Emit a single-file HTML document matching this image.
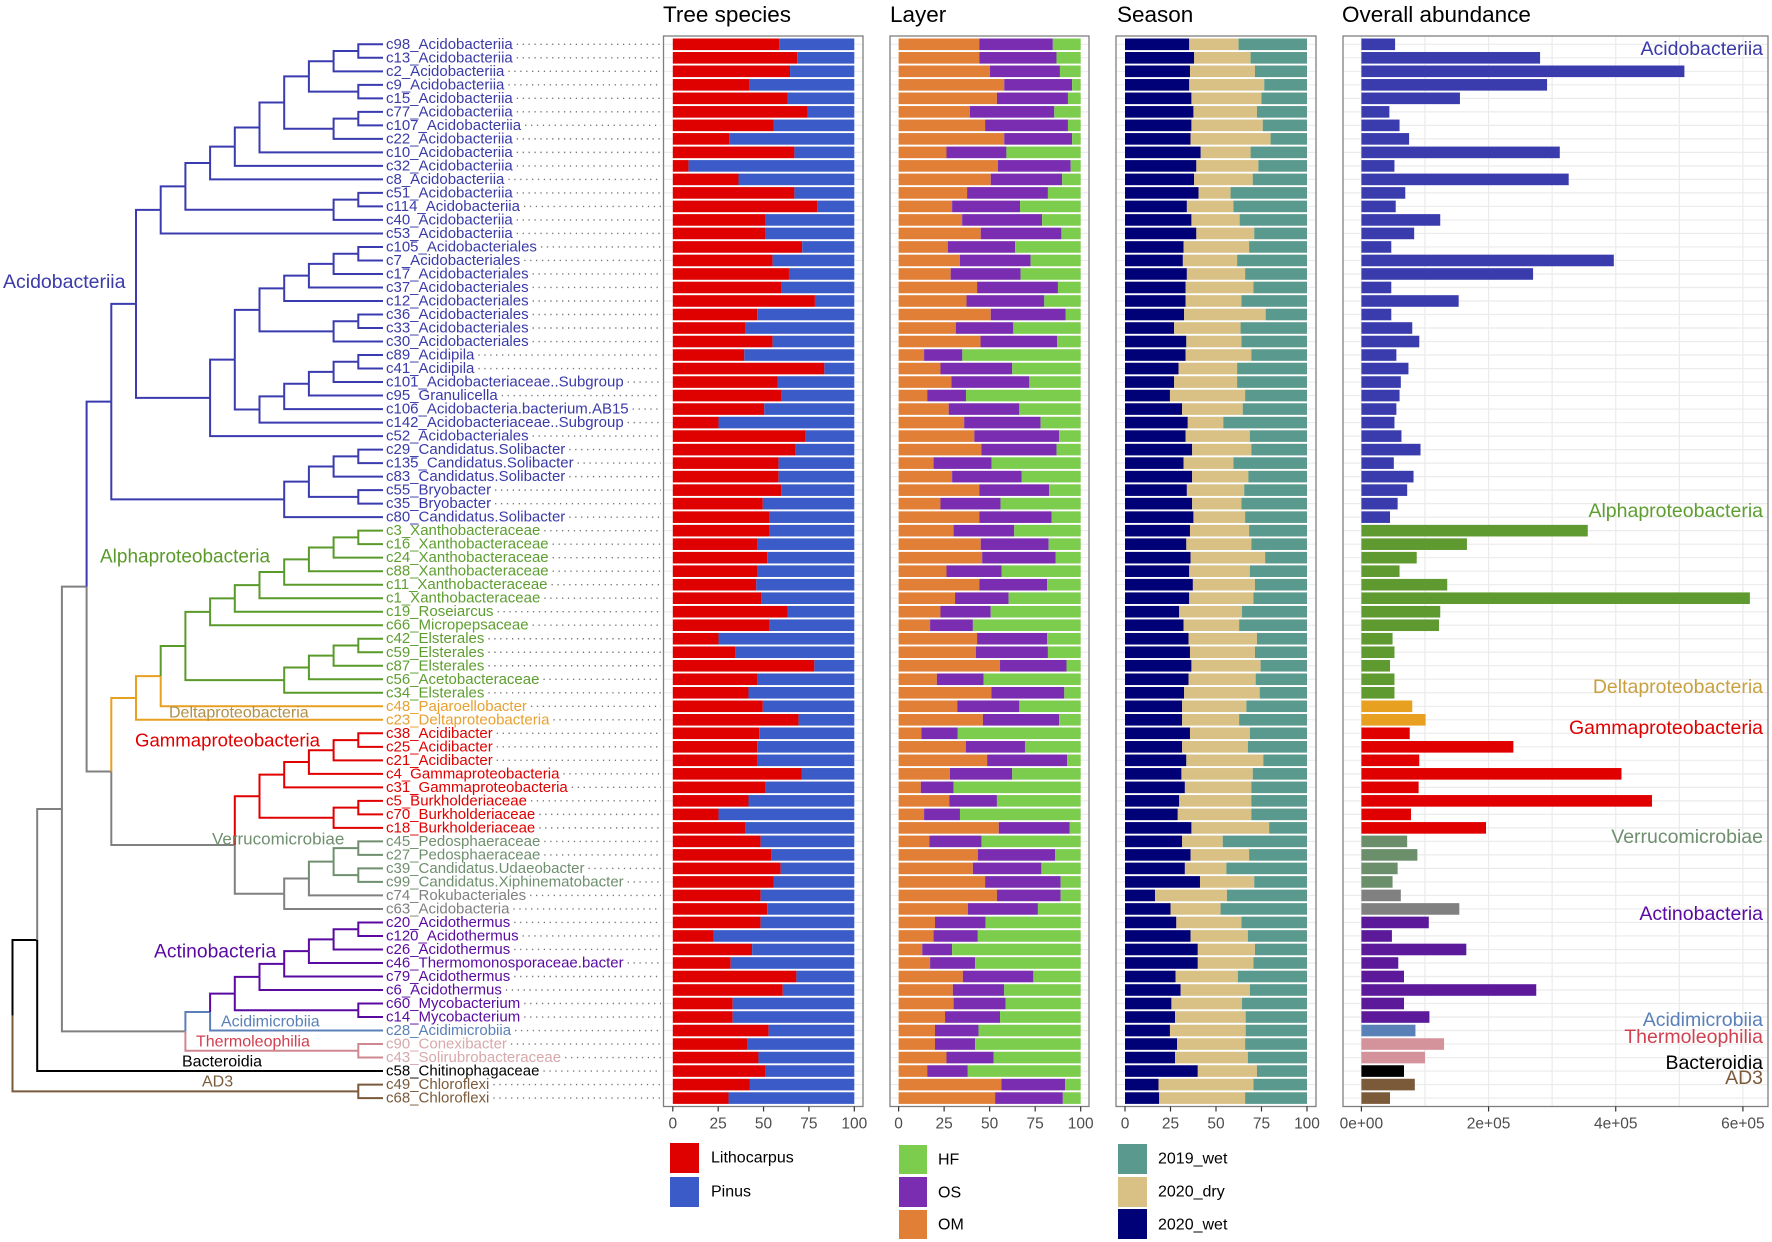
<!DOCTYPE html>
<html><head><meta charset="utf-8">
<style>
html,body{margin:0;padding:0;background:#fff;}
svg{display:block;font-family:"Liberation Sans",Arial,sans-serif;}
</style></head>
<body>
<svg id="chart" width="1772" height="1242" viewBox="0 0 1772 1242" xmlns="http://www.w3.org/2000/svg">
<rect x="0" y="0" width="1772" height="1242" fill="#fff"/>
<g id="tree"></g>
<g id="leaflabels"></g>
<g id="panels"></g>
<g id="titles">
<text x="663" y="22" font-size="22.5">Tree species</text>
<text x="890" y="22" font-size="22.5">Layer</text>
<text x="1117" y="22" font-size="22.5">Season</text>
<text x="1342" y="22" font-size="22.5">Overall abundance</text>
</g>
<g id="grouplabels" dominant-baseline="central">
<text x="3" y="282" font-size="19.5" fill="#3a3aa8">Acidobacteriia</text>
<text x="100" y="557" font-size="19" fill="#5a9a2a">Alphaproteobacteria</text>
<text x="169" y="713" font-size="16" fill="#b09048">Deltaproteobacteria</text>
<text x="135" y="740" font-size="18.6" fill="#e00000">Gammaproteobacteria</text>
<text x="212" y="839" font-size="17" fill="#6f8f6f">Verrucomicrobiae</text>
<text x="154" y="952" font-size="19.3" fill="#5a0aa0">Actinobacteria</text>
<text x="221" y="1022" font-size="16" fill="#5b80b8">Acidimicrobiia</text>
<text x="196" y="1042" font-size="16" fill="#d04050">Thermoleophilia</text>
<text x="182" y="1062" font-size="16" fill="#000">Bacteroidia</text>
<text x="202" y="1082" font-size="16" fill="#7a5a3a">AD3</text>
</g>
<g id="legends" font-size="16" fill="#000">
<rect x="670" y="1143" width="29" height="30" fill="#df0000"/>
<text x="711" y="1158" dominant-baseline="central">Lithocarpus</text>
<rect x="670" y="1177" width="29" height="30" fill="#3a5bc8"/>
<text x="711" y="1192" dominant-baseline="central">Pinus</text>
<rect x="899" y="1145" width="28" height="29" fill="#7ccd4e"/>
<text x="938" y="1160" dominant-baseline="central">HF</text>
<rect x="899" y="1177" width="28" height="30" fill="#7a2db0"/>
<text x="938" y="1193" dominant-baseline="central">OS</text>
<rect x="899" y="1210" width="28" height="29" fill="#e07f35"/>
<text x="938" y="1225" dominant-baseline="central">OM</text>
<rect x="1118" y="1144" width="29" height="30" fill="#5a9a8e"/>
<text x="1158" y="1159" dominant-baseline="central">2019_wet</text>
<rect x="1118" y="1177" width="29" height="30" fill="#d9c084"/>
<text x="1158" y="1192" dominant-baseline="central">2020_dry</text>
<rect x="1118" y="1209" width="29" height="30" fill="#000077"/>
<text x="1158" y="1225" dominant-baseline="central">2020_wet</text>
</g>
</svg>
<script>
const leafNames = ["c98_Acidobacteriia","c13_Acidobacteriia","c2_Acidobacteriia","c9_Acidobacteriia","c15_Acidobacteriia","c77_Acidobacteriia","c107_Acidobacteriia","c22_Acidobacteriia","c10_Acidobacteriia","c32_Acidobacteriia","c8_Acidobacteriia","c51_Acidobacteriia","c114_Acidobacteriia","c40_Acidobacteriia","c53_Acidobacteriia","c105_Acidobacteriales","c7_Acidobacteriales","c17_Acidobacteriales","c37_Acidobacteriales","c12_Acidobacteriales","c36_Acidobacteriales","c33_Acidobacteriales","c30_Acidobacteriales","c89_Acidipila","c41_Acidipila","c101_Acidobacteriaceae..Subgroup","c95_Granulicella","c106_Acidobacteria.bacterium.AB15","c142_Acidobacteriaceae..Subgroup","c52_Acidobacteriales","c29_Candidatus.Solibacter","c135_Candidatus.Solibacter","c83_Candidatus.Solibacter","c55_Bryobacter","c35_Bryobacter","c80_Candidatus.Solibacter","c3_Xanthobacteraceae","c16_Xanthobacteraceae","c24_Xanthobacteraceae","c88_Xanthobacteraceae","c11_Xanthobacteraceae","c1_Xanthobacteraceae","c19_Roseiarcus","c66_Micropepsaceae","c42_Elsterales","c59_Elsterales","c87_Elsterales","c56_Acetobacteraceae","c34_Elsterales","c48_Pajaroellobacter","c23_Deltaproteobacteria","c38_Acidibacter","c25_Acidibacter","c21_Acidibacter","c4_Gammaproteobacteria","c31_Gammaproteobacteria","c5_Burkholderiaceae","c70_Burkholderiaceae","c18_Burkholderiaceae","c45_Pedosphaeraceae","c27_Pedosphaeraceae","c39_Candidatus.Udaeobacter","c99_Candidatus.Xiphinematobacter","c74_Rokubacteriales","c63_Acidobacteria","c20_Acidothermus","c120_Acidothermus","c26_Acidothermus","c46_Thermomonosporaceae.bacter","c79_Acidothermus","c6_Acidothermus","c60_Mycobacterium","c14_Mycobacterium","c28_Acidimicrobiia","c90_Conexibacter","c43_Solirubrobacteraceae","c58_Chitinophagaceae","c49_Chloroflexi","c68_Chloroflexi"];
const groupRuns = [["A",36],["P",13],["D",2],["G",8],["V",4],["O",2],["X",8],["M",1],["T",2],["B",1],["Z",2]];
const lithocarpusPct = [58.7,68.5,64.6,42,63.4,74.4,55.5,31,67,8.7,36.2,67,79.5,50.8,51.2,71.3,55,64,60,78.3,46.5,39.8,55,39.4,83.5,57.9,60,50.4,25.2,73.2,67.7,58.3,58.3,59.8,49.6,53,53,46.8,52,46.8,46,48.8,63.4,53,25.2,34.3,78,46.8,41.7,49.6,69.3,47.6,46.5,46.8,70.9,51.2,41.7,25.2,39.8,48.4,54.3,59.4,55.5,48.4,52,48.4,22.4,43.7,31.9,68.1,60.6,33,33,52.8,41.3,47.2,51.2,42.5,30.7];
const layerOMPct = [44.3,44.3,50.2,58,54,39.2,47.5,58,26.3,54.5,50.6,37.6,29.4,34.9,45.1,27,33.7,28.6,43.1,37.3,50.6,31.4,45,14,23,29,15.7,27.5,36,41.6,45.5,19.2,29.4,44.3,23,44.3,30.2,45.1,45.9,26.3,44.3,31,23,17.3,43.1,42.4,55.7,21,51,32.2,46.3,12.5,36.9,48.6,28.2,12.2,27.8,14,55,16.9,43.5,40.8,47.5,54,38,20,19.2,13,17.3,35.3,29.8,30.2,25.5,20,20,26.3,15.7,56.5,53];
const layerOMplusOSPct = [84.7,86.7,88.6,95.3,93,85.5,93,95.3,59.2,94.5,89.8,82,66.7,78.8,89.4,64,72.5,67,87.5,80,91.8,63,87,35,62.4,71.8,37,66.3,78,88.2,86.7,51,67.5,82.7,56,84,63.5,82.4,86.3,56.5,81.6,60.4,50.6,40.8,81.6,82,92.2,46.7,91,66.3,88.2,32.5,69.4,92.5,62.4,30.2,54,33.7,94,45.5,85.9,78.4,89,89,76.5,47.8,43.5,29.4,42,74,58,58.8,55.7,43.9,42,52.2,38,91.4,90.2];
const season2020WetPct = [35.3,38,35.7,35.3,36.5,37.6,36.5,36,41.6,39.2,38,40.4,34,36.5,39.2,32.2,31.8,34,33.3,33.3,32.5,27,33.7,33.3,29.4,27,24.7,31.4,34.5,33.3,36.9,32.2,36.9,34,36.9,37.6,35.7,33.7,36,35.3,37.3,35.3,29.8,32.2,34.9,35.7,36.5,34.9,32.5,31.4,31.4,35.7,31.4,33.7,31,32.9,29.8,29,36.5,31.4,36,32.9,41.2,16.5,25,28.2,36,40,40,27.8,30.6,25.5,27.5,24.7,28.6,27.5,40,18.4,18.8];
const season2020WetPlusDryPct = [62.4,69,71.4,76.5,75,72.5,75.7,80,69,73.3,70.2,58,59.6,63,71,68.2,61.6,66,70.6,64,77.3,63.5,64,69.4,61.6,61.6,66,64.7,54,68.6,69.4,59.6,67.8,65.5,64,66,68.2,69.4,77,68.6,71.4,70.6,64.3,62.7,72.5,71.4,74.5,71.8,74,66.7,62.7,68.6,67.5,76,70.2,69.4,69.4,69.4,79.2,53.7,68.2,55.7,71,56,52.5,64,67.5,71.4,70.6,62,68.6,64.3,66.3,66.3,66,67.5,72.5,70.6,66];
const abundanceThousands = [53,281,508,292,155,44,60,75,312,52,326,69,54,124,83,47,397,270,47,153,47,80,91,55,74,62,60,55,52,63,93,51,82,72,57,45,356,166,87,60,135,611,124,122,49,52,45,52,52,80,101,76,239,91,409,90,457,78,196,72,88,57,49,62,154,106,48,165,58,67,275,67,107,85,130,100,67,84,45];
const pctTicks = [0,25,50,75,100];
const abundTicks = [0,200000,400000,600000];
const abundTickLabels = ["0e+00","2e+05","4e+05","6e+05"];
const abundGroupLabels = [["Acidobacteriia","A",49],["Alphaproteobacteria","P",511],["Deltaproteobacteria","D",687],["Gammaproteobacteria","G",728],["Verrucomicrobiae","V",837],["Actinobacteria","X",914],["Acidimicrobiia","M",1020],["Thermoleophilia","T",1037],["Bacteroidia","B",1063],["AD3","Z",1078]];

// tree topology built from named subtrees
const tA1 = [[["c98","c13"],"c2"],["c9","c15"]];
const tA2 = [tA1,[["c77","c107"],"c22"]];
const tA3 = [[[tA2,"c10"],"c32"],"c8"];
const acido1 = [[tA3,[["c51","c114"],"c40"]],"c53"];
const tB1 = [[[["c105","c7"],"c17"],"c37"],"c12"];
const tB2 = [tB1,[["c36","c33"],"c30"]];
const acidipila = [[[[["c89","c41"],"c101"],"c95"],"c106"],"c142"];
const acido2 = [[tB2,acidipila],"c52"];
const solib = [[[["c29","c135"],"c83"],["c55","c35"]],"c80"];
const acidoAll = [[acido1,acido2],solib];
const xanth = [[[[[[["c3","c16"],"c24"],"c88"],"c11"],"c1"],"c19"],"c66"];
const elst = [[[["c42","c59"],"c87"],"c56"],"c34"];
const alphaDelta = [[[xanth,elst],"c48"],"c23"];
const gamma = [[[[["c38","c25"],"c21"],"c4"],"c31"],[["c5","c70"],"c18"]];
const verr = [[[["c45","c27"],["c39","c99"]],"c74"],"c63"];
const prot = [alphaDelta,[gamma,verr]];
const n230 = [acidoAll,prot];
const actino = [[[[[[["c20","c120"],"c26"],"c46"],"c79"],"c6"],["c60","c14"]],"c28"];
const actAll = [actino,["c90","c43"]];
const treeTopology = [[[n230,actAll],"c58"],["c49","c68"]];

const leafGroups=[]; groupRuns.forEach(r=>{for(let k=0;k<r[1];k++)leafGroups.push(r[0]);});

const NS="http://www.w3.org/2000/svg";
function mk(tag, attrs, parent){const e=document.createElementNS(NS,tag);for(const k in attrs)e.setAttribute(k,attrs[k]);parent.appendChild(e);return e;}

const edgeCol={A:"#3b3bb0",P:"#5a9a2a",D:"#e8a020",G:"#e00000",V:"#6f8f6f",O:"#808080",X:"#5a0aa0",M:"#5b80b8",T:"#d08890",B:"#000000",Z:"#7a5a3a"};
const labelCol={A:"#3a3aa8",P:"#5e9e30",D:"#e8a030",G:"#e00000",V:"#6f8f6f",O:"#808080",X:"#5a0aa0",M:"#5b80b8",T:"#d8a8ab",B:"#000000",Z:"#7a5a3a"};
const barCol={A:"#3a3cae",P:"#5f9a30",D:"#e8a020",G:"#e00000",V:"#6b8e6b",O:"#808080",X:"#5c1a9a",M:"#5a80b8",T:"#d4939a",B:"#000000",Z:"#7b5a3a"};

const Y0=44.3, DY=13.51, TIPX=383, STEP=24.7;
function yOf(i){return Y0+i*DY;}
const idxOf={}; leafNames.forEach((n,i)=>{idxOf[n.split("_")[0]]=i;});

function layout(node){
  if(typeof node==="string"){const i=idxOf[node];return {leaf:true,i:i,x:TIPX,y:yOf(i),h:0,groups:new Set([leafGroups[i]])};}
  const kids=node.map(layout);
  const h=Math.max(...kids.map(k=>k.h))+1;
  const g=new Set();kids.forEach(k=>k.groups.forEach(v=>g.add(v)));
  return {leaf:false,kids:kids,x:TIPX-h*STEP,y:kids.reduce((s,k)=>s+k.y,0)/kids.length,h:h,groups:g};
}
function nodeColor(n){
  const g=[...n.groups];
  if(g.length===1) return edgeCol[g[0]];
  if(g.every(v=>v==="P"||v==="D")) return edgeCol.D;
  if(g.every(v=>v==="X"||v==="M")) return edgeCol.M;
  if(g.includes("B") && g.length>8) return "#000000";
  return "#808080";
}
try{
const treeG=document.getElementById("tree");
const root=layout(treeTopology);
function drawEdges(n){
  if(n.leaf) return;
  n.kids.forEach(k=>{
    const p=mk("path",{d:`M${n.x},${n.y}V${k.y}H${k.x}`,fill:"none",stroke:nodeColor(k),"stroke-width":2},treeG);
    
    
    drawEdges(k);
  });
}
drawEdges(root);
}catch(e){}

// leaf labels + dotted leaders
const labG=document.getElementById("leaflabels");
leafNames.forEach((name,i)=>{
  const t=mk("text",{x:386,y:yOf(i),"font-size":15,fill:labelCol[leafGroups[i]],"dominant-baseline":"central"},labG);
  t.textContent=name;
  
  
  let w=name.length*7.3;
  try{w=t.getComputedTextLength();}catch(e){}
  const d=mk("line",{x1:386+w+4,x2:661,y1:yOf(i),y2:yOf(i),stroke:"#777","stroke-width":1.4,"stroke-dasharray":"1.3 4.6"},labG);
  
  
});

// panels
const PG=document.getElementById("panels");
const TOP=36, BOT=1106.5;
function panel(name,bx0,bx1,v0,v1,dmin,dmax,ticks,tickLabels,segments,grid){
  const g=mk("g",{},PG);
  
  
  mk("rect",{x:bx0,y:TOP,width:bx1-bx0,height:BOT-TOP,fill:"#fff"},g);
  const sx=v=>v0+(v-dmin)/(dmax-dmin)*(v1-v0);
  if(grid){grid.forEach(v=>{mk("line",{x1:sx(v),x2:sx(v),y1:TOP,y2:BOT,stroke:"#ebebeb","stroke-width":1.2},g);});}
  leafNames.forEach((n,i)=>{mk("line",{x1:bx0,x2:bx1,y1:yOf(i),y2:yOf(i),stroke:"#ebebeb","stroke-width":1.2},g);});
  const bh=11.6;
  leafNames.forEach((n,i)=>{
    segments(i).forEach(s=>{
      const r=mk("rect",{x:sx(s[0]),y:yOf(i)-bh/2,width:Math.max(0,sx(s[1])-sx(s[0])),height:bh,fill:s[2]},g);
      
      
    });
  });
  mk("rect",{x:bx0,y:TOP,width:bx1-bx0,height:BOT-TOP,fill:"none",stroke:"#7f7f7f","stroke-width":1.3},g);
  ticks.forEach((v,k)=>{
    mk("line",{x1:sx(v),x2:sx(v),y1:BOT,y2:BOT+5,stroke:"#333","stroke-width":1.2},g);
    const t=mk("text",{x:sx(v),y:1124,"text-anchor":"middle","dominant-baseline":"central","font-size":15.5,fill:"#4d4d4d"},g);
    t.textContent=tickLabels[k];
    
    
  });
  return sx;
}
panel("tree-species-panel",663.5,863,672.8,854.3,0,100,pctTicks,pctTicks.map(String),
  i=>[[0,lithocarpusPct[i],"#df0000","lithocarpus"],[lithocarpusPct[i],100,"#3a5bc8","pinus"]]);
panel("layer-panel",890,1089,898.6,1080.7,0,100,pctTicks,pctTicks.map(String),
  i=>[[0,layerOMPct[i],"#e07f35","om"],[layerOMPct[i],layerOMplusOSPct[i],"#7a2db0","os"],[layerOMplusOSPct[i],100,"#7ccd4e","hf"]]);
panel("season-panel",1116,1316,1125,1307,0,100,pctTicks,pctTicks.map(String),
  i=>[[0,season2020WetPct[i],"#000077","2020-wet"],[season2020WetPct[i],season2020WetPlusDryPct[i],"#d9c084","2020-dry"],[season2020WetPlusDryPct[i],100,"#5a9a8e","2019-wet"]]);
panel("abundance-panel",1343,1768,1361.4,1742.9,0,600000,abundTicks,abundTickLabels,
  i=>[[0,abundanceThousands[i]*1000,barCol[leafGroups[i]],"abundance"]],[0,100000,200000,300000,400000,500000,600000]);

const ag=mk("g",{},PG);


abundGroupLabels.forEach(a=>{
  let col=labelCol[a[1]];
  if(a[1]==="D") col="#c8a040";
  if(a[1]==="T") col="#d04050";
  const t=mk("text",{x:1763,y:a[2],"text-anchor":"end","dominant-baseline":"central","font-size":19.5,fill:col},ag);
  t.textContent=a[0];
  
  
});
</script>
</body></html>
